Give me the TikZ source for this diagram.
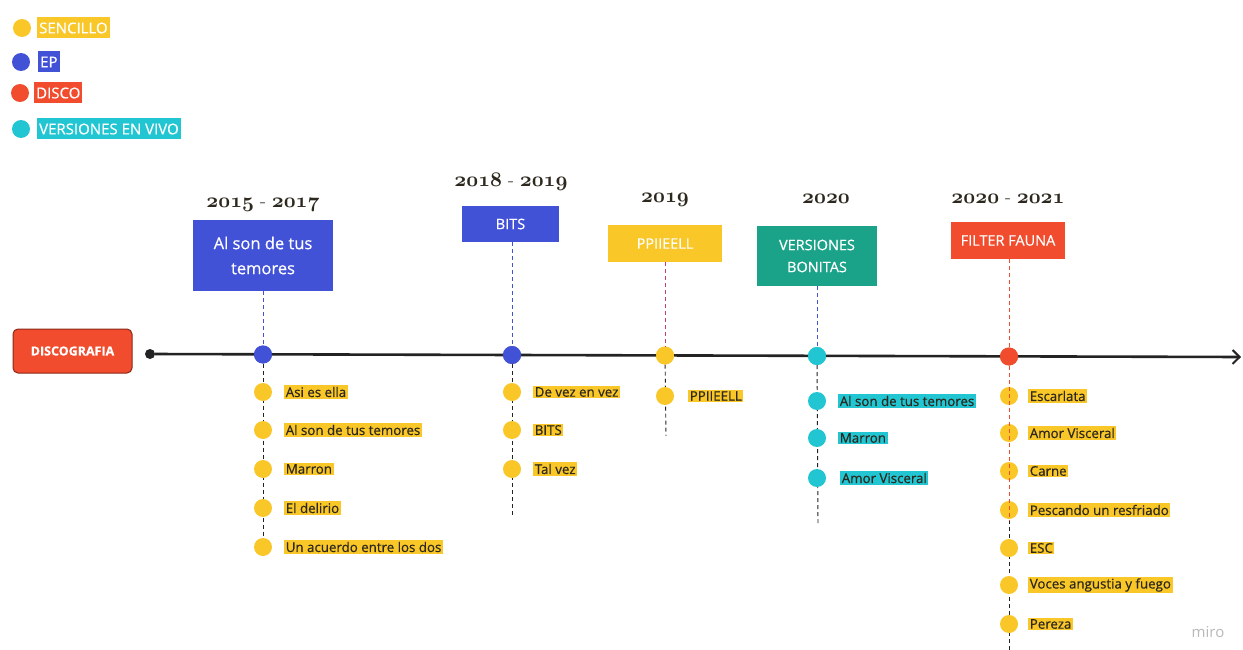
\documentclass[tikz,border=0pt]{standalone}
\usepackage{fontspec}
\setsansfont{Open Sans}[FakeBold=0.5,BoldFont={Open Sans Bold}]
\newfontfamily\plainsans{Open Sans}
\usetikzlibrary{arrows.meta}
\definecolor{cyel}{RGB}{250,199,40}
\definecolor{cblue}{RGB}{66,82,214}
\definecolor{cred}{RGB}{240,76,45}
\definecolor{ccyan}{RGB}{33,198,210}
\definecolor{cteal}{RGB}{26,163,136}
\definecolor{ctxt}{RGB}{45,40,30}
\definecolor{cline}{RGB}{35,35,35}
\definecolor{cpink}{RGB}{200,60,120}
\definecolor{cmiro}{RGB}{185,185,185}
\newcommand{\osnum}[1]{{\usefont{OML}{cmm}{b}{it}#1}}
\begin{document}
\begin{tikzpicture}[x=1pt,y=-1pt,
  legdot/.style={circle,fill=#1,inner sep=0pt,minimum size=18pt},
  legbox/.style={fill=#1,text=white,anchor=west,inner sep=2pt,minimum height=21pt,font=\sffamily\fontsize{15}{17}\selectfont},
  evdot/.style={circle,fill=#1,inner sep=0pt,minimum size=18pt},
  topbox/.style={fill=#1,text=white,align=center,inner sep=2pt,font=\sffamily\fontsize{14.5}{22}\selectfont},
  itembox/.style={fill=#1,text=ctxt,anchor=west,inner sep=1.6pt,font=\sffamily\fontsize{13.3}{15}\selectfont},
  yr/.style={font=\fontsize{19.5}{24}\selectfont,text=ctxt},
  drop/.style={draw=#1,line width=0.9pt,dash pattern=on 4pt off 3pt},
]
\useasboundingbox (0,0) rectangle (1243,650);
\fill[white] (0,0) rectangle (1243,650);

% legend
\node[legdot=cyel] (l1) at (22,28) {};
\node[legbox=cyel] (l1t) at (37,28) {SENCILLO};
\node[legdot=cblue] (l2) at (21,62) {};
\node[legbox=cblue] (l2t) at (38,62) {EP};
\node[legdot=cred] (l3) at (20,93) {};
\node[legbox=cred] (l3t) at (34,93) {DISCO};
\node[legdot=ccyan] (l4) at (21,129) {};
\node[legbox=ccyan] (l4t) at (37,129) {VERSIONES EN VIVO};

% title box
\node[draw={rgb,255:red,140;green,40;blue,25},line width=1pt,fill=cred,rounded corners=5pt,
  minimum width=119pt,minimum height=44pt,text=white,
  font=\sffamily\bfseries\fontsize{12.5}{14}\selectfont] (disc) at (72.5,351) {DISCOGRAFIA};

% timeline
\node[circle,fill=cline,inner sep=0pt,minimum size=10pt] (tstart) at (150,354) {};
\coordinate (tend) at (1241,357);

% event dots
\node[evdot=cblue] (e1) at (263,354.5) {};
\node[evdot=cblue] (e2) at (512,355) {};
\node[evdot=cyel] (e3) at (665,355.5) {};
\node[evdot=ccyan] (e4) at (817,356) {};
\node[evdot=cred] (e5) at (1009,356.5) {};

% lower dashed lines
\coordinate (d1) at (263,556);
\coordinate (d2) at (512,516);
\coordinate (d3) at (666,436);
\coordinate (d4) at (818,526);
\coordinate (d5) at (1009,650);
\coordinate (d5m) at (1009,520);
\draw[drop=cline] (e1) -- (d1);
\draw[drop=cline] (e2) -- (d2);
\draw[drop=cline] (e3) -- (d3);
\draw[drop=cline] (e4) -- (d4);
\draw[drop=cline] (d5m) -- (d5);

\draw[cline,line width=2.6pt,-{Straight Barb[length=7pt,width=14pt,line width=2pt]}] (tstart) -- (tend);
\node[evdot=cblue] at (e1) {};
\node[evdot=cblue] at (e2) {};
\node[evdot=cyel] at (e3) {};
\node[evdot=ccyan] at (e4) {};
\node[evdot=cred] at (e5) {};

% year labels
\node[yr] (y1) at (263,205) {\osnum{2015} - \osnum{2017}};
\node[yr] (y2) at (511,182) {\osnum{2018} - \osnum{2019}};
\node[yr] (y3) at (665,200) {\osnum{2019}};
\node[yr] (y4) at (826,199) {\osnum{2020}};
\node[yr] (y5) at (1008,199) {\osnum{2020} - \osnum{2021}};

% top boxes
\node[topbox=cblue,minimum width=140pt,minimum height=71pt,font=\sffamily\fontsize{16.5}{25}\selectfont] (b1) at (263,255.5) {Al son de tus\\temores};
\node[topbox=cblue,minimum width=97pt,minimum height=36pt] (b2) at (510.5,224) {BITS};
\node[topbox=cyel,minimum width=114pt,minimum height=37pt] (b3) at (665,243.5) {PPIIEELL};
\node[topbox=cteal,minimum width=120pt,minimum height=60pt] (b4) at (817,256) {VERSIONES\\BONITAS};
\node[topbox=cred,minimum width=114pt,minimum height=37pt] (b5) at (1008,240.5) {FILTER FAUNA};

% upper dashed connectors
\draw[drop=cblue] (b1.south -| e1) -- (e1);
\draw[drop=cblue] (b2.south -| e2) -- (e2);
\draw[drop=cpink] (b3.south -| e3) -- (e3);
\draw[drop=cblue] (b4.south -| e4) -- (e4);
\draw[drop=cred] (b5.south -| e5) -- (e5);

% event 1 items
\foreach \yy/\tt [count=\i] in {392/Asi es ella,430/Al son de tus temores,469/Marron,508/El delirio,547/Un acuerdo entre los dos}{
  \node[evdot=cyel] (s1\i) at (263,\yy) {};
  \node[itembox=cyel] (t1\i) at (284,\yy) {\tt};
}
% event 2 items
\foreach \yy/\tt [count=\i] in {392/De vez en vez,430/BITS,469/Tal vez}{
  \node[evdot=cyel] (s2\i) at (512,\yy) {};
  \node[itembox=cyel] (t2\i) at (533,\yy) {\tt};
}
% event 3 items
\node[evdot=cyel] (s31) at (665,396) {};
\node[itembox=cyel] (t31) at (688,396) {PPIIEELL};
% event 4 items
\foreach \yy/\xx/\tt [count=\i] in {401/838/Al son de tus temores,438/838/Marron,478/840/Amor Visceral}{
  \node[evdot=ccyan] (s4\i) at (817,\yy) {};
  \node[itembox=ccyan] (t4\i) at (\xx,\yy) {\tt};
}
% event 5 items
\foreach \yy/\tt [count=\i] in {396/Escarlata,433/Amor Visceral,471/Carne,510/Pescando un resfriado,548/ESC,585/Voces angustia y fuego,624/Pereza}{
  \node[evdot=cyel] (s5\i) at (1009,\yy) {};
  \node[itembox=cyel] (t5\i) at (1028,\yy) {\tt};
}
\draw[drop=cred] (e5) -- (d5m);

\node[text=cmiro,font=\plainsans\fontsize{15}{17}\selectfont] (miro) at (1208,632) {miro};
\end{tikzpicture}
\end{document}
